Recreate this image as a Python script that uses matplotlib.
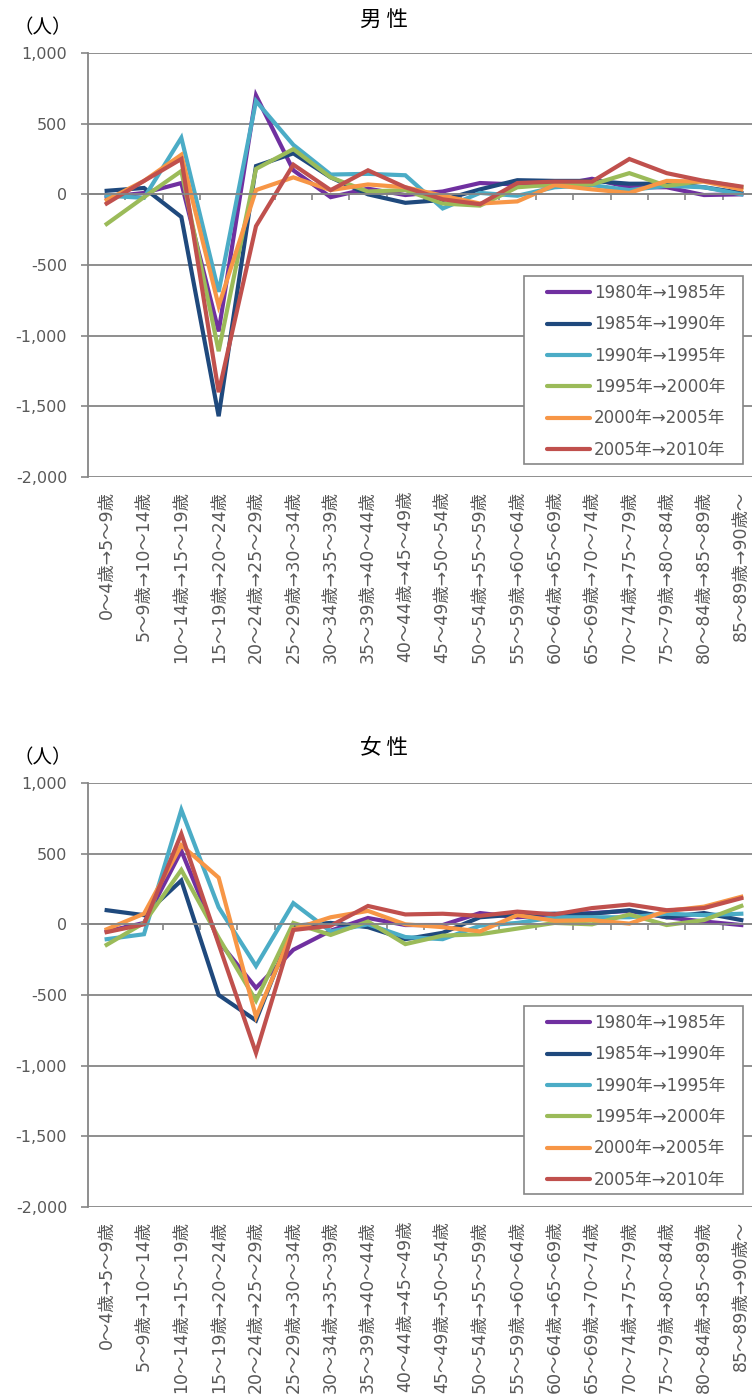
import numpy as np
import matplotlib
matplotlib.use("Agg")
import matplotlib.pyplot as plt
from matplotlib.ticker import FuncFormatter, FixedLocator
from matplotlib.patches import Rectangle

plt.rcParams['font.family'] = ['DejaVu Sans', 'Noto Sans CJK JP']

ages = ["0～4歳→5～9歳", "5～9歳→10～14歳", "10～14歳→15～19歳", "15～19歳→20～24歳",
        "20～24歳→25～29歳", "25～29歳→30～34歳", "30～34歳→35～39歳", "35～39歳→40～44歳",
        "40～44歳→45～49歳", "45～49歳→50～54歳", "50～54歳→55～59歳", "55～59歳→60～64歳",
        "60～64歳→65～69歳", "65～69歳→70～74歳", "70～74歳→75～79歳", "75～79歳→80～84歳",
        "80～84歳→85～89歳", "85～89歳→90歳～"]
periods = ["1980年→1985年", "1985年→1990年", "1990年→1995年",
           "1995年→2000年", "2000年→2005年", "2005年→2010年"]
colors = ['#7030A0', '#1F497D', '#4BACC6', '#9BBB59', '#F79646', '#C0504D']

# 男性
male_80 = [-20, 10, 80, -970, 700, 170, -20, 40, -5, 20, 80, 70, 60, 110, 50, 50, -5, 0]
male_85 = [25, 45, -160, -1570, 200, 290, 120, 0, -60, -40, 35, 100, 95, 95, 75, 75, 50, 10]
male_90 = [-10, -25, 400, -690, 660, 350, 140, 145, 135, -100, 10, -10, 50, 65, 30, 60, 50, 0]
male_95 = [-210, -20, 165, -1110, 180, 320, 120, 20, 30, -65, -80, 50, 70, 70, 150, 60, 95, 50]
male_00 = [-40, 95, 280, -790, 30, 120, 30, 70, 50, -10, -65, -50, 65, 35, 10, 95, 90, 35]
male_05 = [-65, 95, 250, -1400, -225, 210, 30, 170, 50, -35, -70, 80, 90, 90, 250, 150, 95, 55]

# 女性
female_80 = [-50, 10, 520, -120, -450, -180, -45, 45, -5, -5, 80, 50, 65, 80, 95, 50, 20, -5]
female_85 = [100, 65, 310, -500, -680, -10, 10, -20, -105, -60, 50, 70, 75, 75, 100, 50, 80, 30]
female_90 = [-105, -70, 810, 120, -295, 150, -50, 0, -90, -105, -10, 10, 50, 50, 50, 75, 65, 75]
female_95 = [-145, 10, 385, -95, -540, 10, -75, 20, -140, -80, -70, -30, 10, 0, 70, -5, 30, 130]
female_00 = [-35, 75, 560, 330, -655, -35, 50, 95, 0, -20, -50, 65, 25, 30, 5, 95, 125, 195]
female_05 = [-55, 0, 640, -140, -910, -40, -10, 130, 70, 75, 60, 90, 70, 115, 140, 100, 115, 185]

male = [male_80, male_85, male_90, male_95, male_00, male_05]
female = [female_80, female_85, female_90, female_95, female_00, female_05]

grid_c = '#868686'
text_c = '#595959'

fig = plt.figure(figsize=(7.52, 13.96), dpi=100)

panels = [
    (male, "男 性", [88 / 752, 1 - 477 / 1396, 672 / 752, 424 / 1396], 1 - 20 / 1396, 1 - 28 / 1396),
    (female, "女 性", [88 / 752, 1 - 1207 / 1396, 672 / 752, 424 / 1396], 1 - 748 / 1396, 1 - 758 / 1396),
]

x = np.arange(len(ages))

for series, title, rect, title_y, unit_y in panels:
    ax = fig.add_axes(rect)
    for vals, lab, c in zip(series, periods, colors):
        ax.plot(x, vals, color=c, lw=3.0, label=lab, solid_joinstyle='miter')

    ax.set_xlim(-0.5, len(ages) - 0.5)
    ax.set_ylim(-2000, 1000)
    ax.set_yticks(np.arange(-2000, 1001, 500))
    ax.yaxis.set_major_formatter(FuncFormatter(lambda v, p: f"{v:,.0f}"))
    ax.grid(axis='y', color=grid_c, lw=1.3)
    ax.set_axisbelow(True)

    for s in ['top', 'right']:
        ax.spines[s].set_visible(False)
    ax.spines['left'].set_color(grid_c)
    ax.spines['left'].set_linewidth(1.3)
    ax.spines['bottom'].set_position(('data', 0))
    ax.spines['bottom'].set_color(grid_c)
    ax.spines['bottom'].set_linewidth(1.3)

    ax.set_xticks(x)
    ax.xaxis.set_minor_locator(FixedLocator(np.arange(-0.5, len(ages), 1.0)))
    ax.tick_params(axis='x', which='major', length=0, labelbottom=False)
    ax.tick_params(axis='x', which='minor', length=4, color=grid_c, width=1.2, direction='out')
    ax.tick_params(axis='y', length=5, color=grid_c, width=1.2, labelcolor=text_c,
                   labelsize=11.5, pad=10)

    sec = ax.secondary_xaxis('bottom')
    sec.set_xticks(x, ages)
    sec.spines['bottom'].set_visible(False)
    sec.tick_params(axis='x', length=0, pad=10, labelsize=12.5, labelcolor=text_c, rotation=90)

    # legend box drawn separately so the entries can sit inset like the original
    ax.add_patch(Rectangle((0.649, 0.0307), 0.326, 0.4433, transform=ax.transAxes,
                           facecolor='white', edgecolor=grid_c, lw=1.2, zorder=4))
    leg = ax.legend(loc='upper left', bbox_to_anchor=(0.683, 0.455), borderaxespad=0,
                    borderpad=0, fontsize=12, frameon=False,
                    handlelength=2.6, handletextpad=0.2, labelspacing=0.8)
    leg.set_zorder(5)
    for h in leg.get_lines():
        h.set_linewidth(3.0)
        h.set_solid_capstyle('round')
    for t in leg.get_texts():
        t.set_color(text_c)

    fig.text(384 / 752, title_y, title, ha='center', va='center', fontsize=15.5,
             family=['Noto Sans CJK JP'], color='black')
    fig.text(43 / 752, unit_y, "（人）", ha='center', va='center', fontsize=14,
             family=['Noto Sans CJK JP'], color='black')

fig.savefig("out.png", dpi=100)
